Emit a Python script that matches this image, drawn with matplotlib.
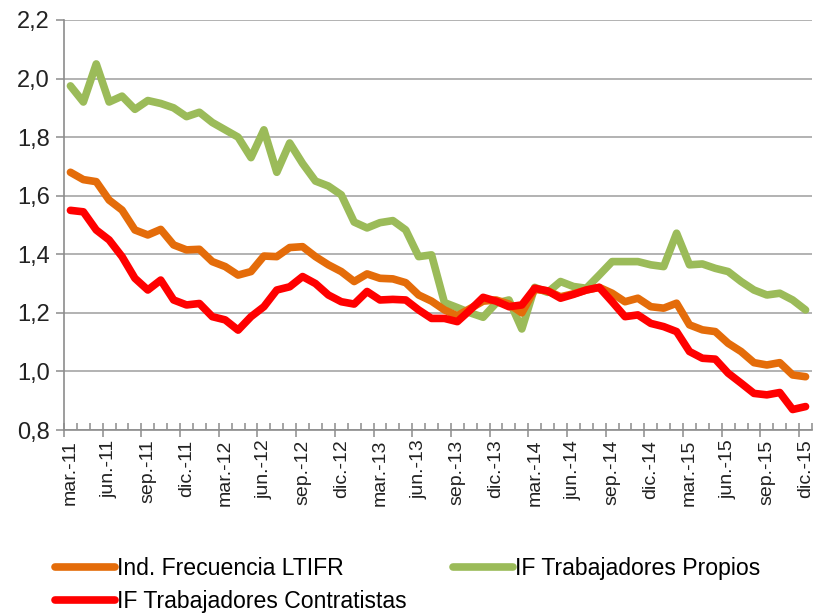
import matplotlib

matplotlib.use("Agg")
import matplotlib.pyplot as plt
from matplotlib.ticker import FixedLocator, FuncFormatter

plt.rcParams["font.family"] = ["Liberation Sans", "DejaVu Sans"]

# monthly series, mar-11 .. dic-15
month_names = ["ene.", "feb.", "mar.", "abr.", "may.", "jun.", "jul.", "ago.", "sep.",
               "oct.", "nov.", "dic."]
years = ["11", "12", "13", "14", "15"]

ltifr = [1.68, 1.655, 1.648, 1.585, 1.551, 1.483, 1.466, 1.485, 1.432, 1.415,
         1.417, 1.375, 1.358, 1.329, 1.341, 1.394, 1.392, 1.423, 1.426, 1.392,
         1.364, 1.341, 1.307, 1.333, 1.318, 1.316, 1.303, 1.261, 1.24, 1.21,
         1.19, 1.215, 1.24, 1.244, 1.23, 1.20, 1.28, 1.275, 1.255, 1.265,
         1.278, 1.287, 1.267, 1.238, 1.25, 1.221, 1.216, 1.233, 1.159, 1.142,
         1.136, 1.096, 1.068, 1.03, 1.022, 1.03, 0.988, 0.982]

propios = [1.975, 1.92, 2.05, 1.92, 1.94, 1.895, 1.925, 1.915, 1.90, 1.87,
           1.885, 1.85, 1.825, 1.80, 1.73, 1.825, 1.68, 1.78, 1.71, 1.65,
           1.633, 1.603, 1.51, 1.49, 1.508, 1.515, 1.483, 1.392, 1.398, 1.235,
           1.218, 1.20, 1.185, 1.233, 1.244, 1.145, 1.287, 1.27, 1.307, 1.29,
           1.284, 1.329, 1.375, 1.375, 1.375, 1.364, 1.358, 1.472, 1.364, 1.367,
           1.352, 1.341, 1.307, 1.278, 1.261, 1.267, 1.244, 1.21]

contratistas = [1.55, 1.545, 1.483, 1.449, 1.392, 1.318, 1.278, 1.312, 1.244, 1.227,
                1.232, 1.187, 1.176, 1.141, 1.187, 1.221, 1.278, 1.289, 1.324, 1.30,
                1.261, 1.238, 1.23, 1.273, 1.244, 1.246, 1.244, 1.21, 1.181, 1.181,
                1.17, 1.21, 1.253, 1.24, 1.221, 1.227, 1.284, 1.275, 1.25, 1.263,
                1.278, 1.287, 1.238, 1.187, 1.193, 1.164, 1.153, 1.136, 1.068, 1.045,
                1.042, 0.994, 0.96, 0.925, 0.92, 0.928, 0.87, 0.88]

n = len(ltifr)
x = list(range(n))

# month label for each point (mar-11 first)
labels = [f"{month_names[(i + 2) % 12]}-{years[(i + 2) // 12]}" for i in range(n)]

orange = "#E46C0A"
green = "#9BBB59"
red = "#FF0000"
axis_gray = "#8C8C8C"

fig = plt.figure(figsize=(8.17, 6.15), dpi=100)
ax = fig.add_axes([64 / 817, 185 / 615, 748 / 817, 410 / 615])

style = dict(lw=5.5, solid_joinstyle="round", solid_capstyle="round")
l1, = ax.plot(x, ltifr, color=orange, label="Ind. Frecuencia LTIFR", zorder=3, **style)
l2, = ax.plot(x, propios, color=green, label="IF Trabajadores Propios", zorder=2, **style)
l3, = ax.plot(x, contratistas, color=red, label="IF Trabajadores Contratistas",
              zorder=4, **style)

ax.set_xlim(-0.5, n - 0.5)
ax.set_ylim(0.8, 2.2)

ax.set_yticks([0.8, 1.0, 1.2, 1.4, 1.6, 1.8, 2.0, 2.2])
ax.yaxis.set_major_formatter(FuncFormatter(lambda v, p: f"{v:.1f}".replace(".", ",")))
ax.yaxis.grid(True, color="#A6A6A6", lw=1.2)
ax.set_axisbelow(True)

# category boundaries as ticks
ax.xaxis.set_major_locator(FixedLocator([b - 0.5 for b in range(0, n, 3)]))
ax.xaxis.set_minor_locator(FixedLocator([b - 0.5 for b in range(0, n + 1)]))
ax.tick_params(axis="x", which="major", direction="inout", length=10, width=1.1,
               color=axis_gray, labelbottom=False)
ax.tick_params(axis="x", which="minor", direction="in", length=5, width=1.1,
               color=axis_gray)
ax.tick_params(axis="y", which="major", direction="out", length=6, width=1.1,
               color=axis_gray, labelsize=17, pad=4, labelcolor="#222222")

for side in ["top", "right"]:
    ax.spines[side].set_visible(False)
for side in ["left", "bottom"]:
    ax.spines[side].set_color(axis_gray)
    ax.spines[side].set_linewidth(1.2)

# labels at category centres
sec = ax.secondary_xaxis("bottom")
sec.set_xticks(x[::3], labels[::3], rotation=90, fontsize=14, color="#222222")
sec.tick_params(length=0, pad=7)
sec.spines["bottom"].set_visible(False)

fig.legend(handles=[l1, l3, l2], ncol=2, loc="upper left",
           bbox_to_anchor=(55 / 817, 1 - 557 / 615), frameon=False,
           fontsize=16.6, handlelength=2.6, handletextpad=0.1, columnspacing=2.0,
           labelspacing=0.42, borderpad=0, borderaxespad=0)

fig.savefig("out.png", dpi=100)
